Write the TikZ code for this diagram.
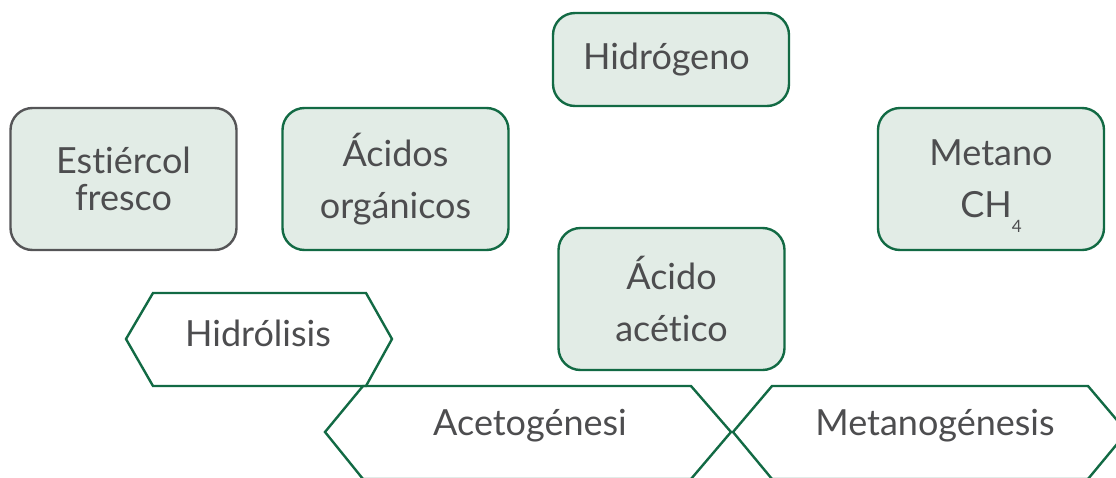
\documentclass[tikz,border=0pt]{standalone}
\usepackage{fontspec}
\setmainfont{Lato}[Ligatures=NoCommon]
\usetikzlibrary{positioning}

\definecolor{boxgreen}{RGB}{18,106,68}
\definecolor{boxfill}{RGB}{226,236,230}
\definecolor{boxgray}{RGB}{85,85,87}
\definecolor{textgray}{RGB}{77,77,79}

\begin{document}
\begin{tikzpicture}
[
    x = 1pt, y = -1pt,
    boxstyle/.style  = {rectangle,
                        rounded corners=22pt,
                        draw=boxgreen,
                        line width=2.4pt,
                        fill=boxfill,
                        minimum width=226pt,
                        minimum height=142pt,
                        align=center,
                        text=textgray,
                        font=\fontsize{36}{52}\selectfont},
    hexline/.style   = {draw=boxgreen,
                        line width=2.4pt,
                        line join=miter},
    hexlabel/.style  = {anchor=base,
                        inner sep=0pt,
                        text=textgray,
                        font=\fontsize{36}{43}\selectfont}
]

\useasboundingbox (0,0) rectangle (1116,477);
\clip (0,0) rectangle (1116,477);

% boxes
\node (est) [boxstyle, draw=boxgray, font=\fontsize{36}{37}\selectfont] at (123.5,179) {
Estiércol\\fresco
};

\node (acor) [boxstyle] at (395.5,179) {
Ácidos\\orgánicos
};

\node (hid) [boxstyle, minimum width=236pt, minimum height=93pt] at (671,59.5) {
Hidrógeno
};

\node (acac) [boxstyle] at (671.5,299) {
Ácido\\acético
};

\node (met) [boxstyle] at (991,179) {
Metano\\CH\smash{\raisebox{-0.4em}{\fontsize{17}{17}\selectfont 4}}
};

% stages
\draw[hexline] (126,339) -- (153,293) -- (366,293) -- (392,339) -- (366,386) -- (153,386) -- cycle;
\node (hyd) [hexlabel] at (258,346) {Hidrólisis};

\draw[hexline] (325,432) -- (363,386) -- (691,386) -- (731,432) -- (691,479) -- (363,479) -- cycle;
\node (aceg) [hexlabel] at (530,435) {Acetogénesi};

\draw[hexline] (733,432) -- (772,386) -- (1088,386) -- (1127,432) -- (1088,479) -- (772,479) -- cycle;
\node (metg) [hexlabel] at (935,435) {Metanogénesis};

\end{tikzpicture}
\end{document}
